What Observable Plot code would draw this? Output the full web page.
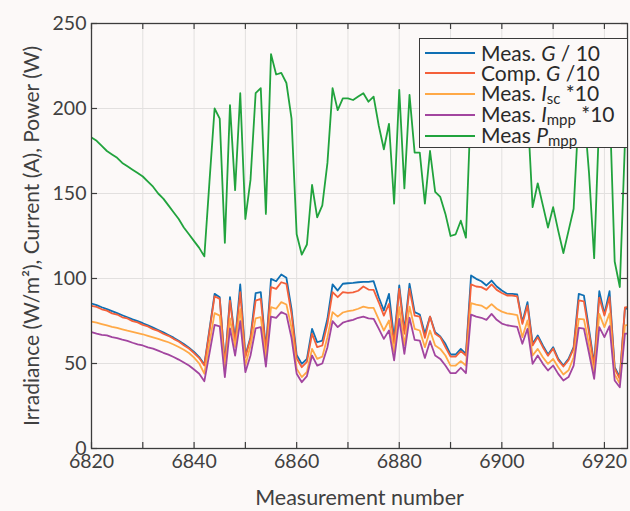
<!DOCTYPE html>
<html><head><meta charset="utf-8">
<script src="https://cdn.jsdelivr.net/npm/d3@7"></script>
<script src="https://cdn.jsdelivr.net/npm/@observablehq/plot@0.6"></script>
<style>
html,body{margin:0;padding:0;background:#fcf9f8;}
#wrap{position:relative;width:630px;height:511px;font-family:Lato, sans-serif;color:#404040;}
#legend{position:absolute;left:419px;top:38px;width:209px;height:110px;border:1.5px solid #3a3a3a;background:#fcf9f8;box-sizing:border-box;}
.row{position:absolute;left:0;height:20px;line-height:20px;display:flex;align-items:center;}
.sw{width:50px;height:0;border-top:2px solid;margin-left:5px;margin-right:6px;}
.lab{font-size:21px;line-height:20px;white-space:nowrap;color:#2a2a2a;}
.sub{font-size:15px;position:relative;top:3px;}
</style></head>
<body><div id="wrap"></div>
<script>
const measurement = [6820,6821,6822,6823,6824,6825,6826,6827,6828,6829,6830,6831,6832,6833,6834,6835,6836,6837,6838,6839,6840,6841,6842,
6843,6844,6845,6846,6847,6848,6849,
6850,6851,6852,6853,6854,6855,6856,6857,6858,6859,
6860,6861,6862,6863,6864,6865,6866,6867,6868,6869,
6870,6871,6872,6873,6874,6875,6876,6877,6878,6879,
6880,6881,6882,6883,6884,6885,6886,6887,6888,6889,
6890,6891,6892,6893,6894,6895,6896,6897,6898,6899,
6900,6901,6902,6903,6904,6905,6906,6907,6908,6909,
6910,6911,6912,6913,6914,6915,6916,6917,6918,6919,
6920,6921,6922,6923,6924,6925];

const measG = [85.3,84.3,83.1,82.0,80.8,79.6,78.4,77.2,76.0,74.9,73.7,72.4,71.1,69.7,68.3,66.8,65.2,63.4,61.5,59.3,56.8,53.8,49.4,
70.0,91.0,89.0,49.8,89.0,63.5,96.5,
54.7,65.5,91.4,92.0,58.5,99.8,98.4,102.4,100.4,82.0,
55.0,49.8,52.7,70.4,62.5,63.5,76.3,96.5,92.9,96.9,
97.2,97.4,97.8,98.0,98.0,98.4,89.0,81.2,91.0,64.5,
95.9,69.4,96.9,80.2,78.8,67.5,77.6,68.4,65.9,61.6,
55.3,55.3,58.6,55.7,101.8,99.8,98.4,95.9,98.8,95.3,
92.9,91.0,91.0,90.6,74.3,86.1,61.6,66.5,60.6,55.3,
59.6,52.7,48.8,52.7,59.6,91.0,90.0,70.0,49.8,92.5,
79.2,92.5,47.8,42.0,82.2,82.5];

const compG = [83.9,83.3,81.9,81.1,79.5,78.8,77.2,76.5,74.9,74.2,72.7,71.8,70.2,69.2,67.5,66.3,64.5,62.9,60.8,58.8,56.1,53.2,48.8,
69.0,89.6,88.0,48.8,87.0,62.5,92.0,
53.7,64.7,87.0,88.0,57.6,94.9,93.9,97.8,96.9,79.0,
53.0,47.8,51.0,67.5,59.6,60.6,73.3,92.0,89.0,92.0,
91.6,91.8,92.8,95.3,93.5,93.3,86.0,78.2,85.1,61.6,
93.9,67.5,93.9,78.2,77.6,65.1,77.6,67.5,65.5,59.6,
54.1,54.1,57.3,54.7,96.5,95.3,94.9,93.3,96.5,93.3,
91.5,90.0,90.0,89.5,73.3,84.1,60.6,65.5,59.6,54.5,
58.8,52.0,48.2,52.0,58.8,87.1,86.5,68.0,48.5,88.8,
78.2,89.0,47.0,41.0,83.0,83.2];

const measIsc = [74.7,74.0,73.2,72.4,71.6,70.9,70.1,69.3,68.6,67.9,67.2,66.3,65.4,64.5,63.5,62.5,61.2,59.7,58.1,56.2,53.5,50.0,44.0,
62.0,79.6,78.2,45.9,76.5,59.6,82.0,
48.8,60.6,76.5,77.3,52.9,83.1,82.2,86.1,84.7,71.0,
47.0,42.0,45.0,58.6,52.7,54.0,65.5,80.2,77.6,80.0,
80.8,81.3,82.2,83.5,82.7,82.7,76.0,69.4,75.3,56.7,
83.1,60.6,83.5,70.4,69.4,59.6,69.4,60.6,58.6,54.7,
48.8,48.8,51.4,48.8,85.5,84.7,84.1,82.2,84.9,82.2,
80.5,79.5,79.0,78.5,65.5,75.3,54.7,58.6,53.7,49.8,
52.7,47.8,43.5,46.0,53.7,76.3,76.0,61.0,44.0,79.2,
71.4,79.5,43.5,38.2,72.4,72.8];

const measImpp = [68.4,67.6,66.9,66.5,65.5,64.9,64.0,63.3,62.2,61.3,60.6,59.5,58.8,57.6,56.3,55.2,53.8,52.3,50.6,48.8,46.5,44.0,39.6,
56.0,72.7,71.8,42.0,70.6,54.7,74.9,
44.9,54.7,70.6,71.4,48.2,77.6,76.9,80.2,78.8,65.0,
44.0,39.0,42.6,54.7,48.8,50.0,59.6,74.9,71.4,74.0,
75.0,75.7,76.9,77.6,76.6,76.3,70.5,64.5,69.4,51.8,
76.3,55.7,76.9,63.9,63.5,53.3,63.1,54.7,52.7,48.8,
44.3,44.3,47.5,44.3,78.8,77.6,76.9,75.7,79.2,75.7,
73.5,72.5,72.0,71.5,61.6,70.4,49.8,54.7,49.8,45.9,
48.8,43.9,40.0,42.0,48.8,71.0,70.5,56.0,41.0,71.4,
65.5,72.0,40.0,36.0,67.5,67.8];

const measPmpp = [183,181,178,175,173,171,168,166,164,162,160,157,154,150,147,143,139,135,130,126,122,118,113,
157,200,194,121,202,152,209,
135,158,209,212,138,232,220,221,215,194,
126,114,120,155,136,143,168,212,199,206,
206,205,207,209,204,207,190,176,191,144,
211,153,208,174,174,144,175,151,148,138,
125,126,134,124,205,212,210,205,210,204,
200,205,203,200,180,200,142,156,143,130,
142,128,115,128,141,198,200,162,112,195,
178,205,110,95,180,184];

const xTicks = [6820,6830,6840,6850,6860,6870,6880,6890,6900,6910,6920];
const xLabelTicks = [6820,6840,6860,6880,6900,6920];
const yTicks = [0,50,100,150,200,250];
const xTitle = "Measurement number";
const yTitle = "Irradiance (W/m²), Current (A), Power (W)";

const seriesNames = ["Meas. G / 10","Comp. G /10","Meas. Isc *10","Meas. Impp *10","Meas Pmpp"];
const seriesValues = [measG, compG, measIsc, measImpp, measPmpp];
const seriesColors = ["#0f6fb3","#f4603a","#ffa947","#a2459f","#21a33d"];

const rows = [];
seriesValues.forEach((vals, s) => {
  vals.forEach((v, i) => rows.push({n: measurement[i], v, s: seriesNames[s]}));
});

const lineMarks = seriesNames.map((name, s) =>
  Plot.line(rows.filter(d => d.s === name), {x: "n", y: "v", stroke: seriesColors[s], strokeWidth: 1.8, clip: true})
);

const axisColor = "#3c3c3c";
const chart = Plot.plot({
  width: 630, height: 511,
  marginLeft: 91, marginRight: 3, marginTop: 23, marginBottom: 63,
  style: {background: "#fcf9f8", fontFamily: "Lato, sans-serif", fontSize: "19px", color: "#404040"},
  x: {domain: [6820, 6924.5]},
  y: {domain: [0, 250]},
  marks: [
    Plot.gridX(xTicks, {stroke: "#e2e0df", strokeOpacity: 1, strokeWidth: 1}),
    Plot.gridY(yTicks, {stroke: "#e2e0df", strokeOpacity: 1, strokeWidth: 1}),
    ...lineMarks,
    Plot.frame({stroke: axisColor, strokeWidth: 1.3}),
    Plot.ruleX(xTicks, {x: d => d, insetTop: 419, stroke: axisColor, strokeWidth: 1.2}),
    Plot.ruleX(xTicks, {x: d => d, insetBottom: 419, stroke: axisColor, strokeWidth: 1.2}),
    Plot.ruleY(yTicks, {y: d => d, insetRight: 530, stroke: axisColor, strokeWidth: 1.2}),
    Plot.ruleY(yTicks, {y: d => d, insetLeft: 530, stroke: axisColor, strokeWidth: 1.2}),
    Plot.axisX(xLabelTicks, {anchor: "bottom", tickSize: 0, tickPadding: 6, tickFormat: d => String(d),
      label: null, fontSize: 19.5, fill: "#404040"}),
    Plot.axisY(yTicks, {anchor: "left", tickSize: 0, tickPadding: 5,
      label: null, fontSize: 19.5, fill: "#404040"}),
    Plot.text([xTitle], {text: d => d, frameAnchor: "bottom", textAnchor: "middle", lineAnchor: "middle", dy: 50, fontSize: 21.5, fill: "#404040"}),
    Plot.text([yTitle], {text: d => d, frameAnchor: "left", textAnchor: "middle", lineAnchor: "middle", rotate: -90, dx: -59, fontSize: 21, fill: "#404040"})
  ]
});

const wrap = document.getElementById("wrap");
wrap.appendChild(chart);

// legend
const legendHTML = [
  'Meas. <i>G</i> / 10',
  'Comp. <i>G</i> /10',
  'Meas. <i>I</i><span class="sub">sc</span> *10',
  'Meas. <i>I</i><span class="sub">mpp</span> *10',
  'Meas <i>P</i><span class="sub">mpp</span>'
];
const legend = document.createElement("div");
legend.id = "legend";
legendHTML.forEach((h, i) => {
  const r = document.createElement("div");
  r.className = "row";
  r.style.top = (3.5 + i * 20.8) + "px";
  r.innerHTML = `<div class="sw" style="border-color:${seriesColors[i]}"></div><span class="lab">${h}</span>`;
  legend.appendChild(r);
});
wrap.appendChild(legend);
</script>
</body></html>
